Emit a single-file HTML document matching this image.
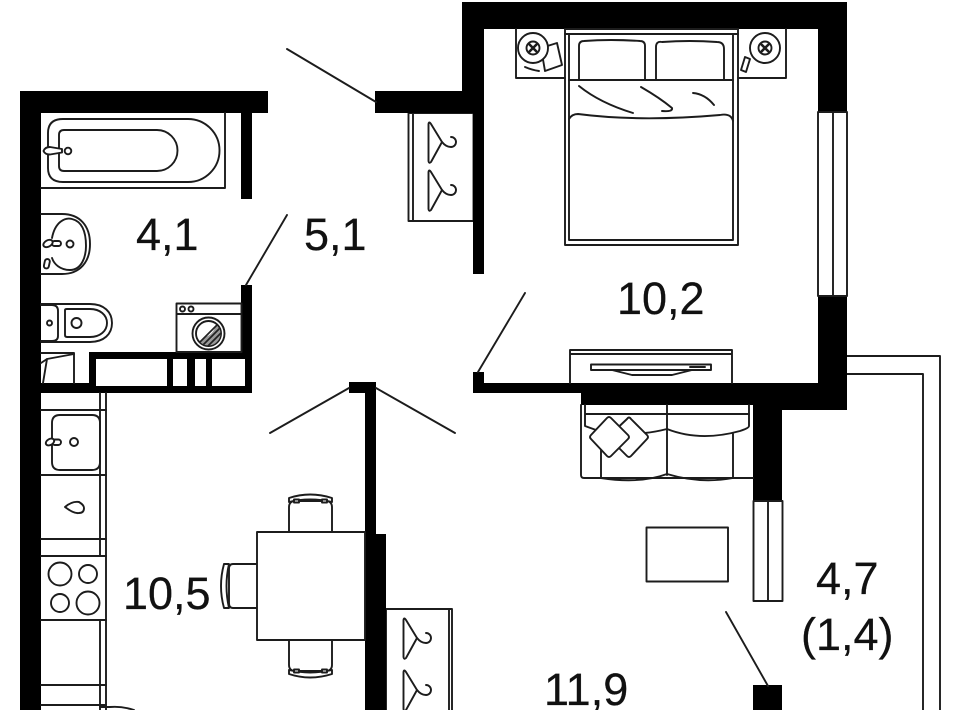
<!DOCTYPE html>
<html><head><meta charset="utf-8"><style>
html,body{margin:0;padding:0;background:#fff;width:960px;height:710px;overflow:hidden}
svg{display:block}
text{font-family:"Liberation Sans",sans-serif;font-size:45px;fill:#111;stroke:#111;stroke-width:.25}
.l{fill:none;stroke:#1c1c1c;stroke-width:1.9;stroke-linejoin:round;stroke-linecap:round}
.w{fill:#fff;stroke:#1c1c1c;stroke-width:1.9;stroke-linejoin:round}
</style></head><body>
<svg width="960" height="710" viewBox="0 0 960 710" xmlns="http://www.w3.org/2000/svg">
<defs>
<g id="h" class="l"><path d="M428.500 124Q429 121 431 124L442 142L431 162Q429 164 428.500 161Z"/><path d="M442 142Q446 147 451 147A5 5 0 0 0 451 137"/></g>
<g id="chair">
<path class="w" d="M289 532V507Q289 502 294 501H327Q332 502 332 507V532"/>
<path class="w" d="M289 498Q310 491 332 498V502Q310 497 289 502Z"/>
<rect x="294" y="499.500" width="5" height="3" class="w"/><rect x="322" y="499.500" width="5" height="3" class="w"/>
</g>
<clipPath id="dr"><circle cx="208.500" cy="333.500" r="12"/></clipPath>
</defs>

<!-- balcony -->
<path class="l" d="M847 356H940V710M847 374H923V710"/>

<!-- closets -->
<rect x="408.500" y="113" width="65" height="108" class="l"/>
<path class="l" d="M413 113V221"/>
<use href="#h"/><use href="#h" y="48"/>
<rect x="386" y="609" width="66" height="110" class="l"/>
<path class="l" d="M449 609V710"/>
<use href="#h" x="-25" y="496"/><use href="#h" x="-25" y="548"/>

<!-- walls -->
<g fill="#000">
<path d="M20 91H268V113H252V199H241V113H41V383H89V352H252V393H41V710H20Z"/>
<rect x="241" y="285" width="11" height="70"/>
<path d="M462 2H847V112H818V29H484V274H473V113H375V91H462Z"/>
<path d="M818 296H847V410H782V501H753V405H581V393H473V372H484V383H818Z"/>
<path d="M349 382H376V534H386V710H365V393H349Z"/>
<rect x="753" y="685" width="29" height="25"/>
</g>
<g fill="#fff">
<rect x="96" y="359" width="71" height="27"/>
<rect x="173" y="359" width="14" height="27"/>
<rect x="195" y="359" width="11" height="27"/>
<rect x="212" y="359" width="33" height="27"/>
</g>

<!-- windows -->
<rect x="818" y="112" width="29" height="184" class="w"/><path class="l" d="M833 112V296"/>
<rect x="753.500" y="501" width="29" height="100" class="w"/><path class="l" d="M768 501V601"/>

<!-- doors -->
<path class="l" d="M246 285L287 215M287 49L376 102M478 372L525 293M349 388L270 433M376 388L455 433M726 612L768 686"/>

<!-- bath -->
<path class="l" d="M41 188H225V113"/>
<path class="l" d="M63 119H188A31.500 31.500 0 0 1 188 182H63Q48 182 48 168V133Q48 119 63 119Z"/>
<path class="l" d="M59 135Q59 130 64 130H157A20.500 20.500 0 0 1 157 171H64Q59 171 59 166Z"/>
<path class="w" d="M43.500 151Q45 147 50 147L62 149V152.500L50 154.500Q45 154.500 43.500 151Z"/><circle cx="68" cy="151" r="3.300" class="w"/>

<!-- sink -->
<path class="l" d="M41 214H62C80 214 90 226 90 244S80 274 62 274H41"/>
<path class="l" d="M52 238C55 222 65 217 72 219C84 222 86 236 86 246S82 270 70 270C60 270 54 264 52 258"/>
<rect x="52" y="241" width="9" height="5" rx="2.500" class="w"/>
<ellipse cx="48" cy="243.500" rx="5" ry="3.200" class="w" transform="rotate(-28 48 243.500)"/>
<circle cx="70" cy="244" r="3.500" class="l"/>
<rect x="44.500" y="259" width="5" height="9.500" rx="2.500" class="l" transform="rotate(12 47 263)"/>

<!-- toilet -->
<path class="l" d="M41 304H90C104 304 112 312 112 323S104 342 90 342H41"/>
<path class="l" d="M41 305H52Q58 305 58 311V336Q58 341 52 341H41"/>
<path class="l" d="M65 310Q65 309 67 309H90C100 309 107 315 107 323S100 337 90 337H67Q65 337 65 335Z"/>
<circle cx="76.500" cy="323" r="5" class="l"/><circle cx="49.500" cy="323" r="2.500" class="l"/>

<!-- misc box -->
<path class="l" d="M41 353H74V383"/><path class="l" d="M41 363L47 359L74 354M47 359L43 383"/>

<!-- washing machine -->
<rect x="176.500" y="303.500" width="65" height="48.500" class="l"/>
<path class="l" d="M177 314H241"/>
<circle cx="182.500" cy="309" r="2.500" class="l"/><circle cx="191" cy="309" r="2.500" class="l"/>
<circle cx="208.500" cy="333.500" r="16" class="l"/><circle cx="208.500" cy="333.500" r="12.500" class="l"/>
<g clip-path="url(#dr)" stroke="#222" stroke-width="1.700" fill="none">
<path d="M199 343L205 337Q213 335 216 325L222 331V350H199Z" stroke="none" fill="#999"/>
<path d="M197 345L219 323M201 347L222 326M205 349L224 330M209 351L226 334"/>
</g>

<!-- bed -->
<path class="l" d="M565 29V245H738V29"/>
<path class="l" d="M569 34V240H733V34M565 34H738M565 29H738"/>
<path class="l" d="M579 79V46Q579 41 584 41Q610 39 640 41Q645 41 645 46V79"/>
<path class="l" d="M656 79V47Q656 41 662 42Q690 40 717 42Q724 42 724 49V79"/>
<path class="l" d="M569 80H733"/>
<path class="l" d="M569 119Q572 114 578 114Q640 122 720 115Q731 113 733 121"/>
<path class="l" d="M579 86Q600 103 633 113M641 87Q660 98 672 108Q673 112 662 111M693 93Q705 94 714 105"/>

<!-- nightstands -->
<path class="l" d="M516 29V78H565"/><path class="l" d="M738 78H786V29"/>
<path class="w" d="M541 48L557 43L562 65L545 71Z"/>
<path class="l" d="M525 67Q532 70 539 71"/>
<circle cx="533" cy="48" r="15" class="w"/><circle cx="533" cy="48" r="6.500" class="l"/>
<path class="l" d="M529.500 44.500L536.500 51.500M536.500 44.500L529.500 51.500" style="stroke-width:2.600"/>
<circle cx="765" cy="48" r="15" class="l"/><circle cx="765" cy="48" r="6.500" class="l"/>
<path class="l" d="M761.500 44.500L768.500 51.500M768.500 44.500L761.500 51.500" style="stroke-width:2.600"/>
<path class="l" d="M745 57L750 59L746 72L741 70Z"/>

<!-- TV -->
<path class="l" d="M570 383V350H732V383M570 354H732"/>
<rect x="591" y="364.500" width="120" height="5.500" class="l"/>
<path class="l" d="M612 370L632 375H672L692 370M690 367H705"/>

<!-- sofa -->
<path class="l" d="M581 405V475Q581 478 584 478H753"/>
<path class="l" d="M585 405V426L596 430M585 414H749V405M667 405V475"/>
<path class="l" d="M749 414V426Q749 428 740 431Q700 442 667 429Q655 432 645 433"/>
<path class="l" d="M601 450V478M733 434V478"/>
<path class="l" d="M601 478Q640 484 667 474Q700 484 733 478"/>
<path class="w" d="M627 419Q629 416 631 419L647 435Q649 437 647 439L631 456Q629 458 627 456L610 439Q608 437 610 435Z"/>
<path class="w" d="M607 418Q609 416 611 418L628 435Q630 437 628 439L611 456Q609 458 607 456L591 439Q589 437 591 435Z"/>

<!-- rug -->
<rect x="646.500" y="527.500" width="81.500" height="54" class="l"/>

<!-- kitchen -->
<path class="l" d="M106 393V710M100 393V556M100 620V710"/>
<path class="l" d="M41 410H106M41 475H106M41 539H106M41 556H106M41 620H106M41 685H106M41 705H106"/>
<path class="l" d="M100 707H110Q122 706 134 710"/>
<path class="l" d="M60 415H92Q100 415 100 423V462Q100 470 92 470H60Q52 470 52 462V423Q52 415 60 415Z"/>
<rect x="52" y="439.500" width="9" height="5.500" rx="2.700" class="w"/>
<ellipse cx="50" cy="442" rx="4.500" ry="3" class="w" transform="rotate(-30 50 442)"/>
<circle cx="74" cy="442" r="4" class="l"/>
<path class="l" d="M65 507Q72 501 79 502Q84 505 84 508Q84 513 79 513Q74 514 65 507Z"/>
<circle cx="60" cy="574" r="11.500" class="l"/><circle cx="88" cy="574" r="9" class="l"/>
<circle cx="60" cy="603" r="9" class="l"/><circle cx="88" cy="603" r="11.500" class="l"/>

<!-- table -->
<use href="#chair"/>
<use href="#chair" transform="matrix(1 0 0 -1 0 1172)"/>
<path class="w" d="M257 564H233Q229 564 229 569V603Q229 608 233 608H257"/>
<path class="w" d="M224 564Q218 586 224 608H229Q224 586 229 564Z"/>
<rect x="257" y="532" width="108" height="108" class="w"/>

<!-- labels -->
<text x="136" y="250">4,1</text>
<text x="304" y="250">5,1</text>
<text x="617" y="314">10,2</text>
<text x="123" y="609">10,5</text>
<text x="816" y="594">4,7</text>
<text x="801" y="650">(1,4)</text>
<text x="544" y="705">11,9</text>
</svg>
</body></html>
